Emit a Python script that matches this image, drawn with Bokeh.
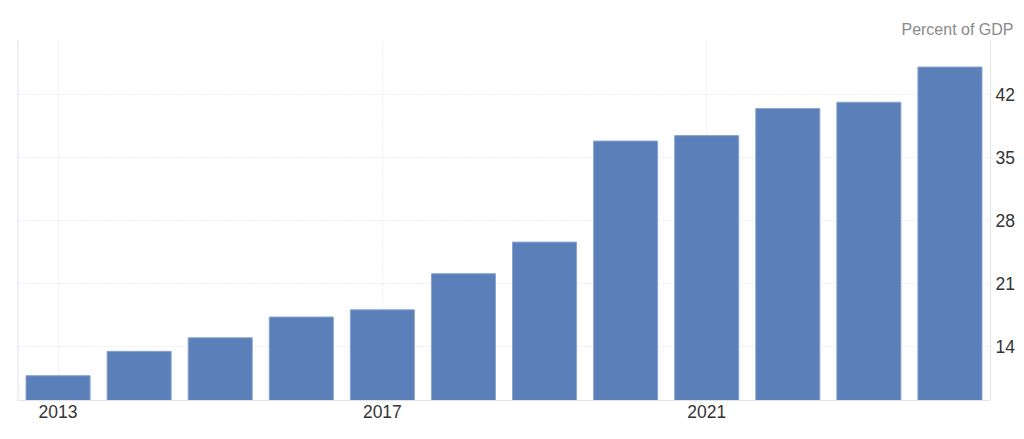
from bokeh.plotting import figure
from bokeh.models import Range1d, LinearAxis, FixedTicker, Span, Title
from bokeh.embed import file_html
from bokeh.resources import INLINE

years = [2013, 2014, 2015, 2016, 2017, 2018, 2019, 2020, 2021, 2022, 2023, 2024]
values = [10.8, 13.5, 15.0, 17.3, 18.1, 22.1, 25.6, 36.8, 37.4, 40.4, 41.1, 45.0]
x_ticks = [2013, 2017, 2021]
y_ticks = [14, 21, 28, 35, 42]
unit_label = "Percent of GDP"

FONT = "Liberation Sans"
X0, X1, Y0, Y1 = 2012.5, 2024.5, 8.05, 48.05

p = figure(width=1020, height=435, output_backend="svg", toolbar_location=None,
           x_range=Range1d(X0, X1), y_range=Range1d(Y0, Y1),
           min_border_left=17, min_border_right=30, min_border_top=39, min_border_bottom=35,
           y_axis_location=None)
p.outline_line_color = None
p.background_fill_color = "white"
p.border_fill_color = "white"

p.vbar(x=years, top=values, bottom=0, width=0.79,
       fill_color="#5b7fb9", line_color="#8aa4d0", line_width=1)

# x axis
xa = p.xaxis[0]
xa.ticker = FixedTicker(ticks=x_ticks)
xa.axis_line_color = "#e4e4e4"
xa.major_tick_line_color = None
xa.minor_tick_line_color = None
xa.major_tick_out = 0
xa.major_label_standoff = 4
xa.major_label_text_font = FONT
xa.major_label_text_font_size = "17.5px"
xa.major_label_text_color = "#333333"

# right y axis
ya = LinearAxis(ticker=FixedTicker(ticks=y_ticks))
ya.axis_line_color = "#e4e4e4"
ya.major_tick_line_color = None
ya.minor_tick_line_color = None
ya.major_tick_out = 0
ya.major_label_standoff = 5
ya.major_label_text_font = FONT
ya.major_label_text_font_size = "17.5px"
ya.major_label_text_color = "#333333"
p.add_layout(ya, "right")

p.xgrid.ticker = FixedTicker(ticks=x_ticks)
p.xgrid.grid_line_color = "#dcdcdc"
p.xgrid.grid_line_dash = "1 2"
p.ygrid.ticker = FixedTicker(ticks=y_ticks + [Y1])
p.ygrid.grid_line_color = "#dcdcdc"
p.ygrid.grid_line_dash = "1 2"

p.add_layout(Span(location=X0, dimension="height", line_color="#dde2f4", line_width=2))

# invisible spacer axis between the frame and the unit title
spacer = LinearAxis(ticker=FixedTicker(ticks=[x_ticks[1]]), axis_line_color=None,
                    major_tick_line_color=None, minor_tick_line_color=None,
                    major_tick_out=0, major_tick_in=0, major_label_standoff=12,
                    major_label_text_font_size="1px", major_label_text_color=None)
p.add_layout(spacer, "above")

p.add_layout(Title(text=unit_label, align="right", offset=-23, standoff=0,
                   vertical_align="top",
                   text_font=FONT, text_font_size="16px", text_font_style="normal",
                   text_color="#8a8a8a"), "above")

open("out.html", "w").write(file_html(p, INLINE))
